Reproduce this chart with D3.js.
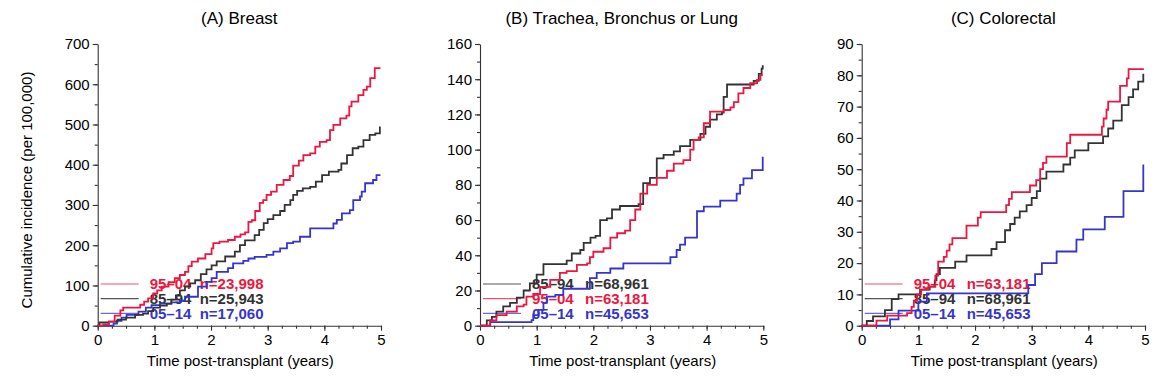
<!DOCTYPE html>
<html><head><meta charset="utf-8">
<script src="https://cdn.jsdelivr.net/npm/d3@7"></script>
<style>body{margin:0;background:#fff}svg{display:block}text{font-family:"Liberation Sans",Arial,Helvetica,sans-serif}</style>
</head><body><svg id="c" width="1157" height="378"></svg>
<script>
// ---------------- data ----------------
const xTicks = [0,1,2,3,4,5];
const breastTicks = [0,100,200,300,400,500,600,700];
const lungTicks = [0,20,40,60,80,100,120,140,160];
const colorectalTicks = [0,10,20,30,40,50,60,70,80,90];
const titles = ["(A) Breast","(B) Trachea, Bronchus or Lung","(C) Colorectal"];

const breastLegend = ["95–04","85–94","05–14"];
const breastN = ["n=23,998","n=25,943","n=17,060"];
const lungLegend = ["85–94","95–04","05–14"];
const lungN = ["n=68,961","n=63,181","n=45,653"];
const colorectalLegend = ["95–04","85–94","05–14"];
const colorectalN = ["n=63,181","n=68,961","n=45,653"];

// [years, cumulative incidence per 100,000]
const breast9504 = [[0,0],[0.1,3],[0.2,10],[0.3,25],[0.4,38],[0.45,45],[0.69,45],[0.75,52],[0.82,60],[0.89,68],[0.98,80],[1.05,88],[1.13,97],[1.25,108],[1.36,118],[1.45,126],[1.54,134],[1.6,148],[1.66,159],[1.77,167],[1.9,178],[2.01,192],[2.04,205],[2.15,209],[2.3,213],[2.42,221],[2.52,227],[2.6,232],[2.66,258],[2.72,262],[2.78,285],[2.86,305],[2.92,312],[2.98,325],[3.06,333],[3.16,350],[3.28,362],[3.39,372],[3.45,398],[3.55,410],[3.63,424],[3.75,428],[3.84,445],[3.92,457],[4.04,461],[4.1,486],[4.16,499],[4.28,515],[4.39,522],[4.44,545],[4.48,557],[4.6,573],[4.69,586],[4.75,594],[4.81,615],[4.89,640],[4.99,640]];
const breast8594 = [[0,0],[0.03,8],[0.2,10],[0.35,15],[0.5,20],[0.66,27],[0.8,30],[0.89,36],[0.98,45],[1.1,50],[1.22,55],[1.3,65],[1.38,75],[1.45,88],[1.54,97],[1.63,105],[1.72,113],[1.82,128],[1.92,140],[2.01,150],[2.1,160],[2.25,172],[2.42,184],[2.51,200],[2.6,212],[2.77,225],[2.85,238],[2.93,255],[3.0,265],[3.1,275],[3.22,285],[3.3,300],[3.4,312],[3.45,325],[3.52,335],[3.62,341],[3.75,345],[3.85,358],[3.96,374],[4.08,383],[4.25,387],[4.3,403],[4.4,424],[4.5,441],[4.6,445],[4.69,461],[4.8,474],[4.9,478],[4.98,495]];
const breast0514 = [[0,0],[0.28,5],[0.34,12],[0.42,20],[0.51,27],[0.72,35],[0.85,45],[0.95,51],[1.1,55],[1.3,58],[1.45,62],[1.54,72],[1.72,72],[1.77,97],[1.92,109],[2.01,118],[2.1,134],[2.3,143],[2.39,155],[2.57,161],[2.66,167],[2.77,171],[2.98,176],[3.1,184],[3.22,192],[3.34,205],[3.45,209],[3.57,221],[3.75,242],[4.1,242],[4.16,254],[4.22,263],[4.31,279],[4.45,287],[4.51,312],[4.63,321],[4.66,333],[4.72,354],[4.86,362],[4.92,374],[4.99,374]];

const lung8594 = [[0,0],[0.12,3],[0.21,5],[0.29,8],[0.41,11],[0.53,13],[0.65,16],[0.77,20],[0.88,24],[1.0,29],[1.12,35],[1.41,35],[1.53,37],[1.62,41],[1.77,43],[1.83,47],[1.95,50],[2.04,51],[2.12,60],[2.24,61],[2.33,66],[2.47,68],[2.8,69],[2.88,81],[3.0,84],[3.12,95],[3.24,97],[3.42,99],[3.53,102],[3.71,105.5],[3.89,109],[3.98,113],[4.06,117],[4.18,120],[4.27,121],[4.3,130],[4.36,137],[4.77,137],[4.83,139],[4.92,143],[4.97,146],[4.99,148]];
const lung9504 = [[0,0],[0.18,3],[0.29,6],[0.47,8],[0.65,11],[0.77,12],[0.82,16.5],[0.94,18],[1.06,22],[1.24,26],[1.41,30],[1.53,31],[1.71,34.5],[1.89,35.4],[1.94,39],[2.0,42],[2.18,44],[2.3,50],[2.42,52.5],[2.56,54],[2.65,60],[2.74,66],[2.83,75],[2.95,80],[3.12,84],[3.3,88],[3.42,92],[3.59,94],[3.71,100],[3.77,105.5],[3.86,107],[3.95,115],[4.06,121.6],[4.3,122.5],[4.42,124],[4.48,127],[4.56,132],[4.65,135],[4.77,137.7],[4.89,139.6],[4.95,142.4],[4.99,142.4]];
const lung0514 = [[0,0],[0.18,2],[0.88,2],[0.91,3.2],[0.94,6],[1.03,9],[1.12,13],[1.18,16.5],[1.33,17.5],[1.47,21],[1.88,21],[1.94,27],[2.06,30],[2.3,32.5],[2.53,35.4],[3.33,35.4],[3.36,39],[3.47,43],[3.53,46],[3.62,50],[3.8,50],[3.83,65],[3.95,67.6],[4.24,71],[4.53,75],[4.59,80],[4.65,83.7],[4.8,88.4],[4.97,88.4],[4.99,96]];

const colorectal9504 = [[0,0],[0.26,1.6],[0.45,3.2],[0.8,4],[0.88,6],[0.92,8],[0.98,10],[1.05,11.5],[1.18,12.5],[1.3,16],[1.35,20.5],[1.45,22],[1.5,24],[1.55,26],[1.6,28],[1.85,32],[2.05,34.5],[2.1,36.3],[2.55,38.5],[2.6,40.5],[2.65,42.7],[2.97,44.8],[3.08,46.5],[3.15,50],[3.2,52],[3.26,54],[3.62,58.3],[3.68,61],[4.24,63.6],[4.27,66.2],[4.32,69],[4.35,71.6],[4.56,76.6],[4.68,79],[4.71,82],[4.98,82]];
const colorectal8594 = [[0,0],[0.09,1.5],[0.2,3],[0.41,5],[0.53,8.5],[0.65,10],[1.03,11.5],[1.2,12.5],[1.29,14.5],[1.32,16.5],[1.38,18.5],[1.65,20.5],[1.85,22.5],[2.29,24.5],[2.38,26.7],[2.53,30.5],[2.62,32.5],[2.7,34.5],[2.79,36.5],[2.91,38.5],[3.0,40.8],[3.09,43],[3.15,47],[3.26,49.2],[3.56,51.5],[3.68,53.7],[3.76,56],[4.0,58.3],[4.26,60.5],[4.35,63],[4.44,65.5],[4.59,70.5],[4.71,73],[4.79,75.5],[4.88,78],[4.97,80.5]];
const colorectal0514 = [[0,0],[0.5,2],[0.65,4.8],[1.0,7.7],[1.15,10.3],[2.91,10.3],[2.94,13],[3.06,16.5],[3.18,20],[3.44,23.7],[3.79,27.5],[3.91,30.8],[4.29,34.8],[4.62,43],[4.97,51.5]];

// ---------------- layout / style ----------------
const colors = {"85–94":"#333333","95–04":"#eb1740","05–14":"#3535cc"};
const legendLineColors = {"85–94":"#555555","95–04":"#f0506a","05–14":"#6a6ad8"};
const panels = [
  {title:titles[0], x0:97.7, ticks:breastTicks, minor:50, legend:breastLegend, n:breastN, nOff:102,
   series:{"95–04":breast9504,"85–94":breast8594,"05–14":breast0514}},
  {title:titles[1], x0:480, ticks:lungTicks, minor:10, legend:lungLegend, n:lungN, nOff:105,
   series:{"85–94":lung8594,"95–04":lung9504,"05–14":lung0514}},
  {title:titles[2], x0:861.7, ticks:colorectalTicks, minor:5, legend:colorectalLegend, n:colorectalN, nOff:105,
   series:{"95–04":colorectal9504,"85–94":colorectal8594,"05–14":colorectal0514}}
];
const plotW = 283.3, yTop = 44, yBot = 325.7;
const legendY = [284, 298.7, 313.3];
const drawOrder = ["05–14","85–94","95–04"];

const svg = d3.select("#c");

panels.forEach((p, i) => {
  const yMax = p.ticks[p.ticks.length-1];
  const x = d3.scaleLinear().domain([0,5]).range([p.x0, p.x0+plotW]);
  const y = d3.scaleLinear().domain([0,yMax]).range([yBot, yTop]);
  const g = svg.append("g");

  // axes
  const xMinor = d3.range(0, 5.001, 0.25);
  const yMinor = d3.range(0, yMax+0.001, p.minor);
  g.append("g").attr("transform",`translate(0,${yBot})`)
    .call(d3.axisBottom(x).tickValues(xMinor).tickSize(3).tickFormat(""))
    .call(a=>a.select(".domain").remove());
  g.append("g").attr("transform",`translate(${p.x0},0)`)
    .call(d3.axisLeft(y).tickValues(yMinor).tickSize(3).tickFormat(""))
    .call(a=>a.select(".domain").remove());
  g.append("g").attr("transform",`translate(0,${yBot})`)
    .call(d3.axisBottom(x).tickValues(xTicks).tickSize(5).tickSizeOuter(0).tickPadding(4).tickFormat(d3.format("d")));
  g.append("g").attr("transform",`translate(${p.x0},0)`)
    .call(d3.axisLeft(y).tickValues(p.ticks).tickSize(5).tickSizeOuter(0).tickPadding(3).tickFormat(d3.format("d")));
  g.selectAll(".tick line, .domain").attr("stroke","#333").attr("stroke-width",1.1);
  g.selectAll(".tick text").attr("font-size",15).attr("fill","#000")
    .style("font-family",'"Liberation Sans",Arial,sans-serif');

  // title
  g.append("text").attr("x", p.x0+plotW/2).attr("y", 24).attr("text-anchor","middle")
    .attr("font-size",17).attr("fill","#000").text(p.title);
  // x label
  g.append("text").attr("x", p.x0+plotW/2+1).attr("y", 366).attr("text-anchor","middle")
    .attr("font-size",15).attr("fill","#000").text("Time post-transplant (years)");

  // legend
  p.legend.forEach((k, j) => {
    const ly = legendY[j];
    g.append("line").attr("x1",p.x0+3).attr("x2",p.x0+41).attr("y1",ly).attr("y2",ly)
      .attr("stroke",legendLineColors[k]).attr("stroke-width",1.2);
    g.append("text").attr("x",p.x0+52).attr("y",ly+5.4).attr("font-size",15).attr("font-weight","bold")
      .attr("fill",colors[k]).text(k);
    g.append("text").attr("x",p.x0+p.nOff).attr("y",ly+5.4).attr("font-size",15).attr("font-weight","bold")
      .attr("fill",colors[k]).text(p.n[j]);
  });

  // lines
  const line = d3.line().x(d=>x(d[0])).y(d=>y(d[1])).curve(d3.curveStepAfter);
  drawOrder.forEach(k => {
    g.append("path").datum(p.series[k]).attr("d",line).attr("fill","none")
      .attr("stroke",colors[k]).attr("stroke-width",1.8).attr("stroke-linejoin","miter");
  });
});

// y-axis title
svg.append("text").attr("transform","translate(32,190) rotate(-90)").attr("text-anchor","middle")
  .attr("font-size",15).attr("fill","#000").text("Cumulative incidence (per 100,000)");
</script></body></html>
